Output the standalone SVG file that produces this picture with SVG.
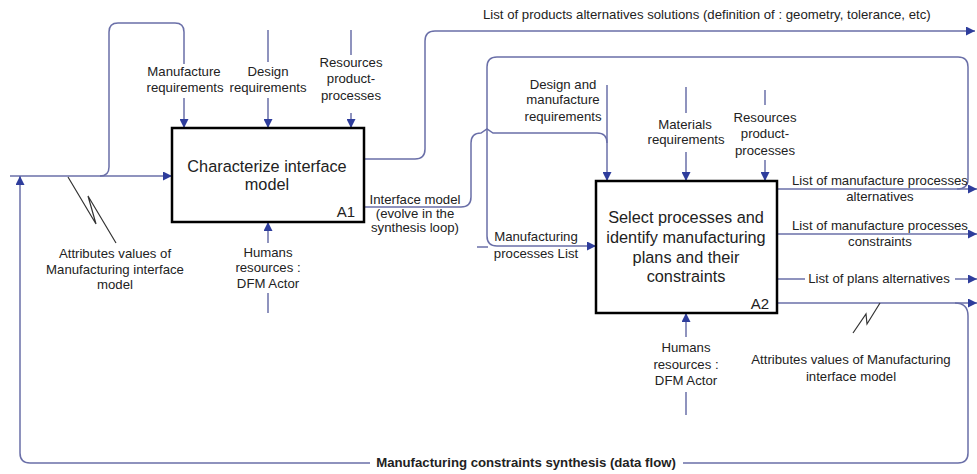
<svg xmlns="http://www.w3.org/2000/svg" width="977" height="474" viewBox="0 0 977 474">
<style>
  .ln { fill: none; stroke: #6a6fa8; stroke-width: 1.5; }
  .zz { fill: none; stroke: #333; stroke-width: 1.2; }
  .box { fill: #fff; stroke: #000; stroke-width: 2.5; }
  text { font-family: "Liberation Sans", Arial, sans-serif; fill: #222; }
  .lb { font-size: 13.2px; text-anchor: middle; }
  .lbs { font-size: 13.2px; }
  .ttl { font-size: 16.3px; text-anchor: middle; }
  .id { font-size: 15px; text-anchor: end; }
  .bold { font-weight: bold; }
</style>
<defs>
  <marker id="ah" viewBox="0 0 10 10" refX="10" refY="5" markerWidth="10" markerHeight="9" markerUnits="userSpaceOnUse" orient="auto">
    <path d="M0,0 L10,5 L0,10 z" fill="#2e3d9c"/>
  </marker>
</defs>
<rect width="977" height="474" fill="#fff"/>

<g id="connectors">
  <!-- main input to A1 -->
  <path class="ln" d="M10,176 H172" marker-end="url(#ah)"/>
  <path class="ln" d="M100,176 Q109,176 109,167 V32 Q109,23 118,23 H175 Q184,23 184,32 V64"/>
  <path class="ln" d="M184,98 V128" marker-end="url(#ah)"/>
  <path class="ln" d="M268,30 V62"/>
  <path class="ln" d="M268,98 V128" marker-end="url(#ah)"/>
  <path class="ln" d="M351,30 V55"/>
  <path class="ln" d="M351,113 V128" marker-end="url(#ah)"/>
  <path class="ln" d="M268,243 V222" marker-end="url(#ah)"/>
  <path class="ln" d="M268,293 V313"/>
  <!-- feedback loop -->
  <path class="ln" d="M370,463 H30 Q20,463 20,453 V176" marker-end="url(#ah)"/>
  <path class="ln" d="M955,303 Q968,303 968,316 V453 Q968,463 958,463 H683"/>
  <!-- A1 outputs -->
  <path class="ln" d="M364,159 H415 Q425,159 425,149 V41 Q425,31 435,31 H975" marker-end="url(#ah)"/>
  <path class="ln" d="M364,207 H461 Q471,207 471,197 V143 Q471,133 481,133 L487,129 L493,133 H597 Q607,133 607,143"/>
  <!-- A2 controls -->
  <path class="ln" d="M607,85 V181" marker-end="url(#ah)"/>
  <path class="ln" d="M686,87 V113"/>
  <path class="ln" d="M686,152 V181" marker-end="url(#ah)"/>
  <path class="ln" d="M765,90 V105"/>
  <path class="ln" d="M765,160 V181" marker-end="url(#ah)"/>
  <!-- loop to manufacturing processes list -->
  <path class="ln" d="M957,189 Q968,189 968,179 V67 Q968,57 958,57 H497 Q487,57 487,67 V236 Q487,246 497,246 H596" marker-end="url(#ah)"/>
  <path class="ln" d="M477,247 H488"/>
  <!-- A2 outputs -->
  <path class="ln" d="M777,189 H977" marker-end="url(#ah)"/>
  <path class="ln" d="M777,234 H977" marker-end="url(#ah)"/>
  <path class="ln" d="M777,279 H805"/>
  <path class="ln" d="M955,279 H977" marker-end="url(#ah)"/>
  <path class="ln" d="M777,303 H977" marker-end="url(#ah)"/>
  <!-- A2 mechanism -->
  <path class="ln" d="M686,337 V313" marker-end="url(#ah)"/>
  <path class="ln" d="M686,392 V415"/>
  <!-- squiggles -->
  <polyline class="zz" points="68,177 96,224 88,196 116,243"/>
  <polyline class="zz" points="853,333 866,314 867,324 880,303"/>
</g>

<g id="A1">
  <rect class="box" x="172" y="128" width="192" height="94"/>
  <text class="ttl" x="267" y="172">Characterize interface</text>
  <text class="ttl" x="267" y="190">model</text>
  <text class="id" x="355" y="217">A1</text>
</g>

<g id="A2">
  <rect class="box" x="596" y="181" width="181" height="132"/>
  <text class="ttl" x="686" y="223">Select processes and</text>
  <text class="ttl" x="686" y="243">identify manufacturing</text>
  <text class="ttl" x="686" y="263">plans and their</text>
  <text class="ttl" x="686" y="282">constraints</text>
  <text class="id" x="769" y="309">A2</text>
</g>

<g id="labels">
  <text class="lbs" x="483" y="19">List of products alternatives solutions (definition of : geometry, tolerance, etc)</text>
  <text class="lb" x="184" y="76">Manufacture</text>
  <text class="lb" x="185" y="92">requirements</text>
  <text class="lb" x="268" y="76">Design</text>
  <text class="lb" x="268" y="92">requirements</text>
  <text class="lb" x="351" y="67">Resources</text>
  <text class="lb" x="351" y="83">product-</text>
  <text class="lb" x="351" y="100">processes</text>
  <text class="lb" x="415" y="204">Interface model</text>
  <text class="lb" x="415" y="218">(evolve in the</text>
  <text class="lb" x="415" y="232">synthesis loop)</text>
  <text class="lb" x="268" y="257">Humans</text>
  <text class="lb" x="268" y="272">resources :</text>
  <text class="lb" x="268" y="288">DFM Actor</text>
  <text class="lb" x="115" y="258">Attributes values of</text>
  <text class="lb" x="115" y="274">Manufacturing interface</text>
  <text class="lb" x="115" y="289">model</text>
  <text class="lb bold" x="526" y="467">Manufacturing constraints synthesis (data flow)</text>
  <text class="lb" x="563" y="89">Design and</text>
  <text class="lb" x="563" y="104">manufacture</text>
  <text class="lb" x="563" y="121">requirements</text>
  <text class="lb" x="685" y="129">Materials</text>
  <text class="lb" x="686" y="144">requirements</text>
  <text class="lb" x="765" y="122">Resources</text>
  <text class="lb" x="765" y="138">product-</text>
  <text class="lb" x="765" y="155">processes</text>
  <text class="lb" x="880" y="185">List of manufacture processes</text>
  <text class="lb" x="880" y="201">alternatives</text>
  <text class="lb" x="880" y="230">List of manufacture processes</text>
  <text class="lb" x="880" y="246">constraints</text>
  <text class="lb" x="879" y="283">List of plans alternatives</text>
  <text class="lb" x="536" y="241">Manufacturing</text>
  <text class="lb" x="536" y="258">processes List</text>
  <text class="lb" x="686" y="352">Humans</text>
  <text class="lb" x="686" y="369">resources :</text>
  <text class="lb" x="686" y="385">DFM Actor</text>
  <text class="lb" x="851" y="364">Attributes values of Manufacturing</text>
  <text class="lb" x="851" y="381">interface model</text>
</g>
</svg>
